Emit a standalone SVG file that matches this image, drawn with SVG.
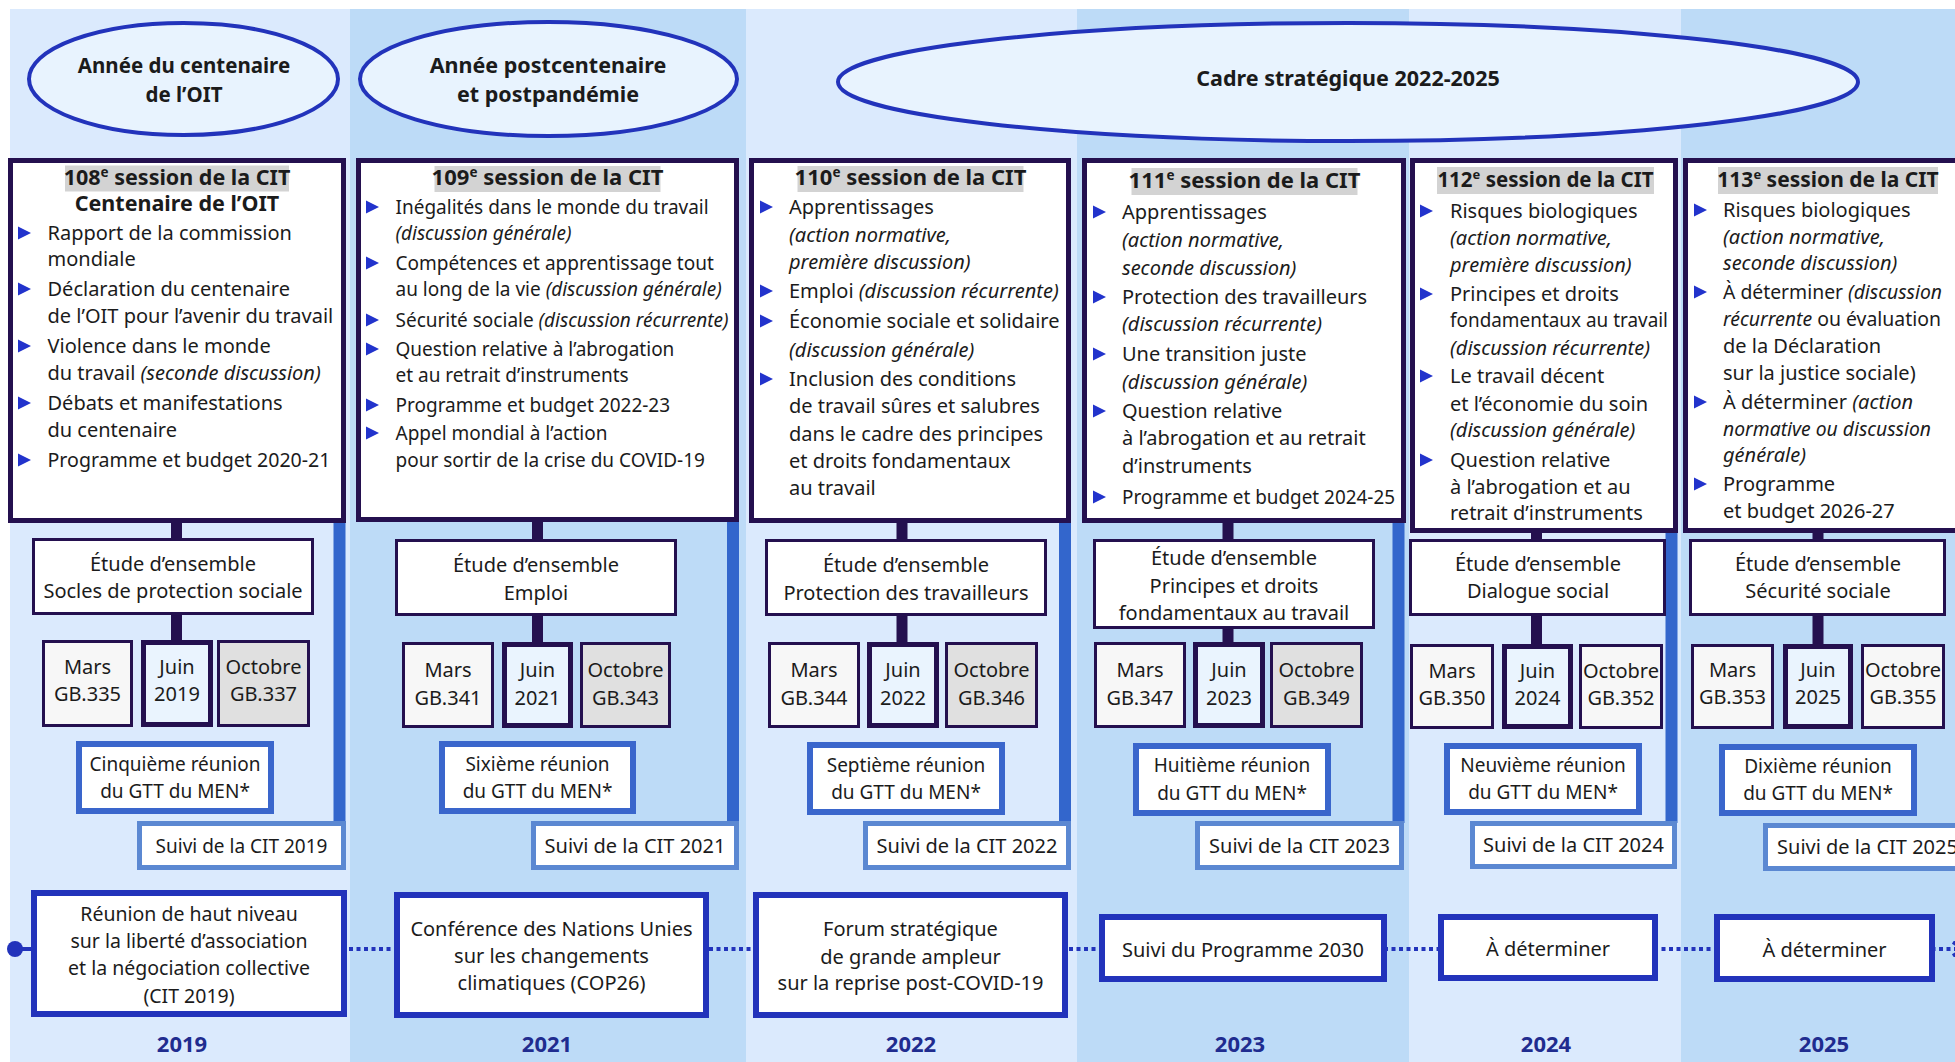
<svg xmlns="http://www.w3.org/2000/svg" xmlns:xlink="http://www.w3.org/1999/xlink" width="1955" height="1062" viewBox="0 0 1955 1062">
<style>
.tx{font-family:"Noto Sans","Open Sans",sans-serif;font-size:20px;fill:#1b1b1b}
.sm{font-size:19px}
.bd{font-weight:700}
.hd{font-size:22px}
.it{font-style:italic}
.mid{text-anchor:middle}
.yr{font-family:"Noto Sans","Open Sans",sans-serif;font-size:22px;font-weight:700;fill:#1f2c8f;text-anchor:middle}
.bgl{fill:#dbeafd}
.bgd{fill:#bddbf7}
.ell{fill:#e8f3fe;stroke:#2233bb;stroke-width:4}
.sess{fill:#fff;stroke:#24104f;stroke-width:5}
.hl{fill:#d3d3d3}
.etu{fill:#fff;stroke:#24104f;stroke-width:3}
.mars{fill:#f7f7f7;stroke:#24104f;stroke-width:3}
.juin{fill:#eaf4fe;stroke:#24104f;stroke-width:5}
.oct{fill:#e0e0e0;stroke:#24104f;stroke-width:3}
.octl{fill:#f7f7f7;stroke:#24104f;stroke-width:3}
.gtt{fill:#fff;stroke:#3a66cc;stroke-width:6}
.suivi{fill:#fff;stroke:#5b88d2;stroke-width:5}
.bot{fill:#fff;stroke:#2233bb;stroke-width:6}
.navy{stroke:#24104f;stroke-width:11}
.blue{stroke:#3366cc;stroke-width:12}
</style>
<defs>
<path id="bul" d="M0,-6.5 L13,0 L0,6.5Z" fill="#2233cc"/>
<marker id="arr" markerUnits="userSpaceOnUse" markerWidth="14" markerHeight="16" refX="11" refY="8" orient="auto">
<path d="M1,1 L11,8 L1,15" fill="none" stroke="#2233bb" stroke-width="4" stroke-dasharray="4 3"/>
</marker>
</defs>

<g id="backgrounds">
<rect x="10" y="9" width="340" height="1053" class="bgl"/>
<rect x="350" y="9" width="396" height="1053" class="bgd"/>
<rect x="746" y="9" width="331" height="1053" class="bgl"/>
<rect x="1077" y="9" width="332" height="1053" class="bgd"/>
<rect x="1409" y="9" width="272" height="1053" class="bgl"/>
<rect x="1681" y="9" width="274" height="1053" class="bgd"/>
</g>

<g id="ellipse-centenaire">
<ellipse cx="183.5" cy="79" rx="154.5" ry="56" class="ell"/>
<text class="tx bd mid" x="184" y="73" style="font-size:20.5px">Année du centenaire</text>
<text class="tx bd mid" x="184" y="102" style="font-size:20.5px">de l’OIT</text>
</g>
<g id="ellipse-postcentenaire">
<ellipse cx="548.5" cy="79" rx="188.5" ry="57" class="ell"/>
<text class="tx bd mid" x="548" y="73" style="font-size:21.5px">Année postcentenaire</text>
<text class="tx bd mid" x="548" y="102" style="font-size:21.5px">et postpandémie</text>
</g>
<g id="ellipse-cadre">
<ellipse cx="1348" cy="82" rx="510" ry="59" class="ell"/>
<text class="tx bd mid" x="1348" y="86" style="font-size:21.5px">Cadre stratégique 2022-2025</text>
</g>

<g id="connectors">
<line x1="176.5" y1="520" x2="176.5" y2="643" class="navy"/>
<line x1="537.5" y1="520" x2="537.5" y2="643" class="navy"/>
<line x1="902" y1="520" x2="902" y2="643" class="navy"/>
<line x1="1228" y1="520" x2="1228" y2="643" class="navy"/>
<line x1="1536.5" y1="530" x2="1536.5" y2="645" class="navy"/>
<line x1="1818" y1="530" x2="1818" y2="645" class="navy"/>
<line x1="339.5" y1="520" x2="339.5" y2="823" class="blue"/>
<line x1="733" y1="520" x2="733" y2="823" class="blue"/>
<line x1="1065" y1="520" x2="1065" y2="823" class="blue"/>
<line x1="1398.5" y1="520" x2="1398.5" y2="823" class="blue"/>
<line x1="1671.5" y1="530" x2="1671.5" y2="823" class="blue"/>
<circle cx="15" cy="949" r="8" fill="#2233bb"/>
<line x1="15" y1="949" x2="34" y2="949" stroke="#2233bb" stroke-width="4"/>
<line x1="34" y1="949" x2="1963" y2="949" stroke="#2233bb" stroke-width="4" stroke-dasharray="4 3.5" marker-end="url(#arr)"/>
</g>

<!-- Session boxes -->
<g id="session-108">
<rect x="10.5" y="160.5" width="333" height="360" class="sess"/>
<rect x="65" y="165.5" width="224" height="26" class="hl"/>
<text class="tx bd mid" x="177" y="184.5" style="font-size:21.5px">108<tspan font-size="13.5" dy="-8">e</tspan><tspan dy="8"> session de la CIT</tspan></text>
<text class="tx bd mid" x="177" y="210.5" style="font-size:21.5px">Centenaire de l’OIT</text>
<use xlink:href="#bul" x="18" y="233"/>
<use xlink:href="#bul" x="18" y="289"/>
<use xlink:href="#bul" x="18" y="346"/>
<use xlink:href="#bul" x="18" y="403"/>
<use xlink:href="#bul" x="18" y="460"/>
<text class="tx" x="47.5" y="240">Rapport de la commission</text>
<text class="tx" x="47.5" y="266">mondiale</text>
<text class="tx" x="47.5" y="296">Déclaration du centenaire</text>
<text class="tx" x="47.5" y="323">de l’OIT pour l’avenir du travail</text>
<text class="tx" x="47.5" y="353">Violence dans le monde</text>
<text class="tx" x="47.5" y="380">du travail <tspan class="it">(seconde discussion)</tspan></text>
<text class="tx" x="47.5" y="410">Débats et manifestations</text>
<text class="tx" x="47.5" y="437">du centenaire</text>
<text class="tx" x="47.5" y="467" textLength="283" lengthAdjust="spacingAndGlyphs">Programme et budget 2020-21</text>
</g>

<g id="session-109">
<rect x="358.5" y="160.5" width="378" height="359" class="sess"/>
<rect x="434.5" y="166" width="226" height="26" class="hl"/>
<text class="tx bd hd mid" x="547.5" y="185">109<tspan font-size="13.5" dy="-8">e</tspan><tspan dy="8"> session de la CIT</tspan></text>
<use xlink:href="#bul" x="366" y="207"/>
<use xlink:href="#bul" x="366" y="263"/>
<use xlink:href="#bul" x="366" y="320"/>
<use xlink:href="#bul" x="366" y="349"/>
<use xlink:href="#bul" x="366" y="405"/>
<use xlink:href="#bul" x="366" y="433"/>
<text class="tx sm" x="395.5" y="214">Inégalités dans le monde du travail</text>
<text class="tx sm it" x="395.5" y="240">(discussion générale)</text>
<text class="tx sm" x="395.5" y="270">Compétences et apprentissage tout</text>
<text class="tx sm" x="395.5" y="296">au long de la vie <tspan class="it">(discussion générale)</tspan></text>
<text class="tx sm" x="395.5" y="327">Sécurité sociale <tspan class="it">(discussion récurrente)</tspan></text>
<text class="tx sm" x="395.5" y="356">Question relative à l’abrogation</text>
<text class="tx sm" x="395.5" y="382">et au retrait d’instruments</text>
<text class="tx sm" x="395.5" y="412">Programme et budget 2022-23</text>
<text class="tx sm" x="395.5" y="440">Appel mondial à l’action</text>
<text class="tx sm" x="395.5" y="467">pour sortir de la crise du COVID-19</text>
</g>

<g id="session-110">
<rect x="751.5" y="160.5" width="317" height="360" class="sess"/>
<rect x="797.5" y="166" width="226" height="26" class="hl"/>
<text class="tx bd hd mid" x="910.5" y="185">110<tspan font-size="13.5" dy="-8">e</tspan><tspan dy="8"> session de la CIT</tspan></text>
<use xlink:href="#bul" x="760" y="207"/>
<use xlink:href="#bul" x="760" y="291"/>
<use xlink:href="#bul" x="760" y="321"/>
<use xlink:href="#bul" x="760" y="379"/>
<text class="tx" x="789" y="214">Apprentissages</text>
<text class="tx it" x="789" y="242">(action normative,</text>
<text class="tx it" x="789" y="269">première discussion)</text>
<text class="tx" x="789" y="298">Emploi <tspan class="it">(discussion récurrente)</tspan></text>
<text class="tx" x="789" y="328">Économie sociale et solidaire</text>
<text class="tx it" x="789" y="357">(discussion générale)</text>
<text class="tx" x="789" y="386">Inclusion des conditions</text>
<text class="tx" x="789" y="413">de travail sûres et salubres</text>
<text class="tx" x="789" y="441">dans le cadre des principes</text>
<text class="tx" x="789" y="468">et droits fondamentaux</text>
<text class="tx" x="789" y="495">au travail</text>
</g>

<g id="session-111">
<rect x="1084.5" y="160.5" width="319" height="360" class="sess"/>
<rect x="1131.5" y="168" width="226" height="27" class="hl"/>
<text class="tx bd hd mid" x="1244.5" y="188">111<tspan font-size="13.5" dy="-8">e</tspan><tspan dy="8"> session de la CIT</tspan></text>
<use xlink:href="#bul" x="1093" y="212"/>
<use xlink:href="#bul" x="1093" y="297"/>
<use xlink:href="#bul" x="1093" y="354"/>
<use xlink:href="#bul" x="1093" y="411"/>
<use xlink:href="#bul" x="1093" y="497"/>
<text class="tx" x="1122" y="219">Apprentissages</text>
<text class="tx it" x="1122" y="247">(action normative,</text>
<text class="tx it" x="1122" y="275">seconde discussion)</text>
<text class="tx" x="1122" y="304">Protection des travailleurs</text>
<text class="tx it" x="1122" y="331">(discussion récurrente)</text>
<text class="tx" x="1122" y="361">Une transition juste</text>
<text class="tx it" x="1122" y="389">(discussion générale)</text>
<text class="tx" x="1122" y="418">Question relative</text>
<text class="tx" x="1122" y="445">à l’abrogation et au retrait</text>
<text class="tx" x="1122" y="473">d’instruments</text>
<text class="tx" x="1122" y="504" textLength="273" lengthAdjust="spacingAndGlyphs">Programme et budget 2024-25</text>
</g>

<g id="session-112">
<rect x="1412.5" y="160.5" width="263" height="370" class="sess"/>
<rect x="1437" y="167" width="217" height="27" class="hl"/>
<text class="tx bd mid" x="1545.5" y="187" style="font-size:20.5px">112<tspan font-size="13" dy="-8">e</tspan><tspan dy="8"> session de la CIT</tspan></text>
<use xlink:href="#bul" x="1420" y="211"/>
<use xlink:href="#bul" x="1420" y="294"/>
<use xlink:href="#bul" x="1420" y="376"/>
<use xlink:href="#bul" x="1420" y="460"/>
<text class="tx" x="1450" y="218">Risques biologiques</text>
<text class="tx it" x="1450" y="245">(action normative,</text>
<text class="tx it" x="1450" y="272">première discussion)</text>
<text class="tx" x="1450" y="301">Principes et droits</text>
<text class="tx" x="1450" y="327" textLength="218" lengthAdjust="spacingAndGlyphs">fondamentaux au travail</text>
<text class="tx it" x="1450" y="355">(discussion récurrente)</text>
<text class="tx" x="1450" y="383">Le travail décent</text>
<text class="tx" x="1450" y="411">et l’économie du soin</text>
<text class="tx it" x="1450" y="437">(discussion générale)</text>
<text class="tx" x="1450" y="467">Question relative</text>
<text class="tx" x="1450" y="494">à l’abrogation et au</text>
<text class="tx" x="1450" y="520">retrait d’instruments</text>
</g>

<g id="session-113">
<rect x="1685.5" y="160.5" width="285" height="370" class="sess"/>
<rect x="1718" y="167" width="220" height="27" class="hl"/>
<text class="tx bd mid" x="1828" y="187" style="font-size:21px">113<tspan font-size="13" dy="-8">e</tspan><tspan dy="8"> session de la CIT</tspan></text>
<use xlink:href="#bul" x="1694" y="210"/>
<use xlink:href="#bul" x="1694" y="292"/>
<use xlink:href="#bul" x="1694" y="402"/>
<use xlink:href="#bul" x="1694" y="484"/>
<text class="tx" x="1723" y="217">Risques biologiques</text>
<text class="tx it" x="1723" y="244">(action normative,</text>
<text class="tx it" x="1723" y="270">seconde discussion)</text>
<text class="tx" x="1723" y="299" textLength="219" lengthAdjust="spacingAndGlyphs">À déterminer <tspan class="it">(discussion</tspan></text>
<text class="tx" x="1723" y="326" textLength="218" lengthAdjust="spacingAndGlyphs"><tspan class="it">récurrente</tspan> ou évaluation</text>
<text class="tx" x="1723" y="353">de la Déclaration</text>
<text class="tx" x="1723" y="380">sur la justice sociale)</text>
<text class="tx" x="1723" y="409">À déterminer <tspan class="it">(action</tspan></text>
<text class="tx it" x="1723" y="436" textLength="208" lengthAdjust="spacingAndGlyphs">normative ou discussion</text>
<text class="tx it" x="1723" y="462">générale)</text>
<text class="tx" x="1723" y="491">Programme</text>
<text class="tx" x="1723" y="518">et budget 2026-27</text>
</g>

<!-- Etude d'ensemble -->
<g id="etude-2019">
<rect x="33.5" y="539.5" width="279" height="74" class="etu"/>
<text class="tx mid" x="173" y="571">Étude d’ensemble</text>
<text class="tx mid" x="173" y="598">Socles de protection sociale</text>
</g>
<g id="etude-2021">
<rect x="396.5" y="540.5" width="279" height="74" class="etu"/>
<text class="tx mid" x="536" y="572">Étude d’ensemble</text>
<text class="tx mid" x="536" y="600">Emploi</text>
</g>
<g id="etude-2022">
<rect x="766.5" y="540.5" width="279" height="74" class="etu"/>
<text class="tx mid" x="906" y="572">Étude d’ensemble</text>
<text class="tx mid" x="906" y="600">Protection des travailleurs</text>
</g>
<g id="etude-2023">
<rect x="1094.5" y="540.5" width="279" height="87" class="etu"/>
<text class="tx mid" x="1234" y="565">Étude d’ensemble</text>
<text class="tx mid" x="1234" y="593">Principes et droits</text>
<text class="tx mid" x="1234" y="620">fondamentaux au travail</text>
</g>
<g id="etude-2024">
<rect x="1410.5" y="540.5" width="254" height="74" class="etu"/>
<text class="tx mid" x="1538" y="571">Étude d’ensemble</text>
<text class="tx mid" x="1538" y="598">Dialogue social</text>
</g>
<g id="etude-2025">
<rect x="1690.5" y="540.5" width="254" height="74" class="etu"/>
<text class="tx mid" x="1818" y="571">Étude d’ensemble</text>
<text class="tx mid" x="1818" y="598">Sécurité sociale</text>
</g>

<!-- Governing Body sessions -->
<g id="gb-2019">
<rect x="43.5" y="641.5" width="88" height="84" class="mars"/>
<text class="tx mid" x="87.5" y="674">Mars</text><text class="tx mid" x="87.5" y="701">GB.335</text>
<rect x="143.5" y="642.5" width="67" height="82" class="juin"/>
<text class="tx mid" x="177" y="674">Juin</text><text class="tx mid" x="177" y="701">2019</text>
<rect x="218.5" y="641.5" width="90" height="84" class="oct"/>
<text class="tx mid" x="263.5" y="674">Octobre</text><text class="tx mid" x="263.5" y="701">GB.337</text>
</g>
<g id="gb-2021">
<rect x="403.5" y="643.5" width="89" height="83" class="mars"/>
<text class="tx mid" x="448" y="677">Mars</text><text class="tx mid" x="448" y="705">GB.341</text>
<rect x="504.5" y="644.5" width="66" height="81" class="juin"/>
<text class="tx mid" x="537.5" y="677">Juin</text><text class="tx mid" x="537.5" y="705">2021</text>
<rect x="581.5" y="643.5" width="88" height="83" class="oct"/>
<text class="tx mid" x="625.5" y="677">Octobre</text><text class="tx mid" x="625.5" y="705">GB.343</text>
</g>
<g id="gb-2022">
<rect x="769.5" y="643.5" width="89" height="83" class="mars"/>
<text class="tx mid" x="814" y="677">Mars</text><text class="tx mid" x="814" y="705">GB.344</text>
<rect x="869.5" y="644.5" width="67" height="81" class="juin"/>
<text class="tx mid" x="903" y="677">Juin</text><text class="tx mid" x="903" y="705">2022</text>
<rect x="946.5" y="643.5" width="90" height="83" class="oct"/>
<text class="tx mid" x="991.5" y="677">Octobre</text><text class="tx mid" x="991.5" y="705">GB.346</text>
</g>
<g id="gb-2023">
<rect x="1095.5" y="643.5" width="89" height="83" class="mars"/>
<text class="tx mid" x="1140" y="677">Mars</text><text class="tx mid" x="1140" y="705">GB.347</text>
<rect x="1195.5" y="644.5" width="67" height="81" class="juin"/>
<text class="tx mid" x="1229" y="677">Juin</text><text class="tx mid" x="1229" y="705">2023</text>
<rect x="1271.5" y="643.5" width="90" height="83" class="oct"/>
<text class="tx mid" x="1316.5" y="677">Octobre</text><text class="tx mid" x="1316.5" y="705">GB.349</text>
</g>
<g id="gb-2024">
<rect x="1411.5" y="645.5" width="81" height="82" class="mars"/>
<text class="tx mid" x="1452" y="678">Mars</text><text class="tx mid" x="1452" y="705">GB.350</text>
<rect x="1504.5" y="646.5" width="66" height="80" class="juin"/>
<text class="tx mid" x="1537.5" y="678">Juin</text><text class="tx mid" x="1537.5" y="705">2024</text>
<rect x="1580.5" y="645.5" width="81" height="82" class="octl"/>
<text class="tx mid" x="1621" y="678">Octobre</text><text class="tx mid" x="1621" y="705">GB.352</text>
</g>
<g id="gb-2025">
<rect x="1692.5" y="645.5" width="80" height="82" class="mars"/>
<text class="tx mid" x="1732.5" y="677">Mars</text><text class="tx mid" x="1732.5" y="704">GB.353</text>
<rect x="1785.5" y="646.5" width="65" height="80" class="juin"/>
<text class="tx mid" x="1818" y="677">Juin</text><text class="tx mid" x="1818" y="704">2025</text>
<rect x="1862.5" y="645.5" width="81" height="82" class="octl"/>
<text class="tx mid" x="1903" y="677">Octobre</text><text class="tx mid" x="1903" y="704">GB.355</text>
</g>

<!-- GTT meetings -->
<g id="gtt-5">
<rect x="79" y="744" width="192" height="67" class="gtt"/>
<text class="tx sm mid" x="175" y="771">Cinquième réunion</text>
<text class="tx sm mid" x="175" y="798">du GTT du MEN*</text>
</g>
<g id="gtt-6">
<rect x="442" y="744" width="191" height="67" class="gtt"/>
<text class="tx sm mid" x="537.5" y="771">Sixième réunion</text>
<text class="tx sm mid" x="537.5" y="798">du GTT du MEN*</text>
</g>
<g id="gtt-7">
<rect x="810" y="745" width="192" height="67" class="gtt"/>
<text class="tx sm mid" x="906" y="772">Septième réunion</text>
<text class="tx sm mid" x="906" y="799">du GTT du MEN*</text>
</g>
<g id="gtt-8">
<rect x="1136" y="746" width="192" height="67" class="gtt"/>
<text class="tx sm mid" x="1232" y="772">Huitième réunion</text>
<text class="tx sm mid" x="1232" y="800">du GTT du MEN*</text>
</g>
<g id="gtt-9">
<rect x="1447" y="746" width="192" height="66" class="gtt"/>
<text class="tx sm mid" x="1543" y="772">Neuvième réunion</text>
<text class="tx sm mid" x="1543" y="799">du GTT du MEN*</text>
</g>
<g id="gtt-10">
<rect x="1722" y="747" width="192" height="66" class="gtt"/>
<text class="tx sm mid" x="1818" y="773">Dixième réunion</text>
<text class="tx sm mid" x="1818" y="800">du GTT du MEN*</text>
</g>

<!-- Suivi CIT -->
<g id="suivi-2019">
<rect x="139.5" y="823.5" width="204" height="44" class="suivi"/>
<text class="tx sm mid" x="241.5" y="853">Suivi de la CIT 2019</text>
</g>
<g id="suivi-2021">
<rect x="533.5" y="823.5" width="203" height="44" class="suivi"/>
<text class="tx mid" x="635" y="853">Suivi de la CIT 2021</text>
</g>
<g id="suivi-2022">
<rect x="865.5" y="823.5" width="203" height="44" class="suivi"/>
<text class="tx mid" x="967" y="853">Suivi de la CIT 2022</text>
</g>
<g id="suivi-2023">
<rect x="1197.5" y="823.5" width="204" height="44" class="suivi"/>
<text class="tx mid" x="1299.5" y="853">Suivi de la CIT 2023</text>
</g>
<g id="suivi-2024">
<rect x="1472.5" y="823.5" width="202" height="43" class="suivi"/>
<text class="tx mid" x="1573.5" y="852">Suivi de la CIT 2024</text>
</g>
<g id="suivi-2025">
<rect x="1765.5" y="825.5" width="204" height="43" class="suivi"/>
<text class="tx mid" x="1867.5" y="854">Suivi de la CIT 2025</text>
</g>

<!-- Bottom events -->
<g id="event-2019">
<rect x="34" y="893" width="310" height="121" class="bot"/>
<text class="tx mid" x="189" y="921" style="font-size:19.5px">Réunion de haut niveau</text>
<text class="tx mid" x="189" y="948" style="font-size:19.5px">sur la liberté d’association</text>
<text class="tx mid" x="189" y="975" style="font-size:19.5px">et la négociation collective</text>
<text class="tx mid" x="189" y="1003" style="font-size:19.5px">(CIT 2019)</text>
</g>
<g id="event-2021">
<rect x="397" y="895" width="309" height="120" class="bot"/>
<text class="tx mid" x="551.5" y="936">Conférence des Nations Unies</text>
<text class="tx mid" x="551.5" y="963">sur les changements</text>
<text class="tx mid" x="551.5" y="990">climatiques (COP26)</text>
</g>
<g id="event-2022">
<rect x="756" y="895" width="309" height="120" class="bot"/>
<text class="tx mid" x="910.5" y="936">Forum stratégique</text>
<text class="tx mid" x="910.5" y="964">de grande ampleur</text>
<text class="tx mid" x="910.5" y="990">sur la reprise post-COVID-19</text>
</g>
<g id="event-2023">
<rect x="1102" y="917" width="282" height="62" class="bot"/>
<text class="tx mid" x="1243" y="957">Suivi du Programme 2030</text>
</g>
<g id="event-2024">
<rect x="1441" y="917" width="214" height="61" class="bot"/>
<text class="tx mid" x="1548" y="956">À déterminer</text>
</g>
<g id="event-2025">
<rect x="1717" y="917" width="215" height="62" class="bot"/>
<text class="tx mid" x="1824.5" y="957">À déterminer</text>
</g>

<g id="years">
<text class="yr" x="182" y="1052">2019</text>
<text class="yr" x="547" y="1052">2021</text>
<text class="yr" x="911" y="1052">2022</text>
<text class="yr" x="1240" y="1052">2023</text>
<text class="yr" x="1546" y="1052">2024</text>
<text class="yr" x="1824" y="1052">2025</text>
</g>
</svg>
